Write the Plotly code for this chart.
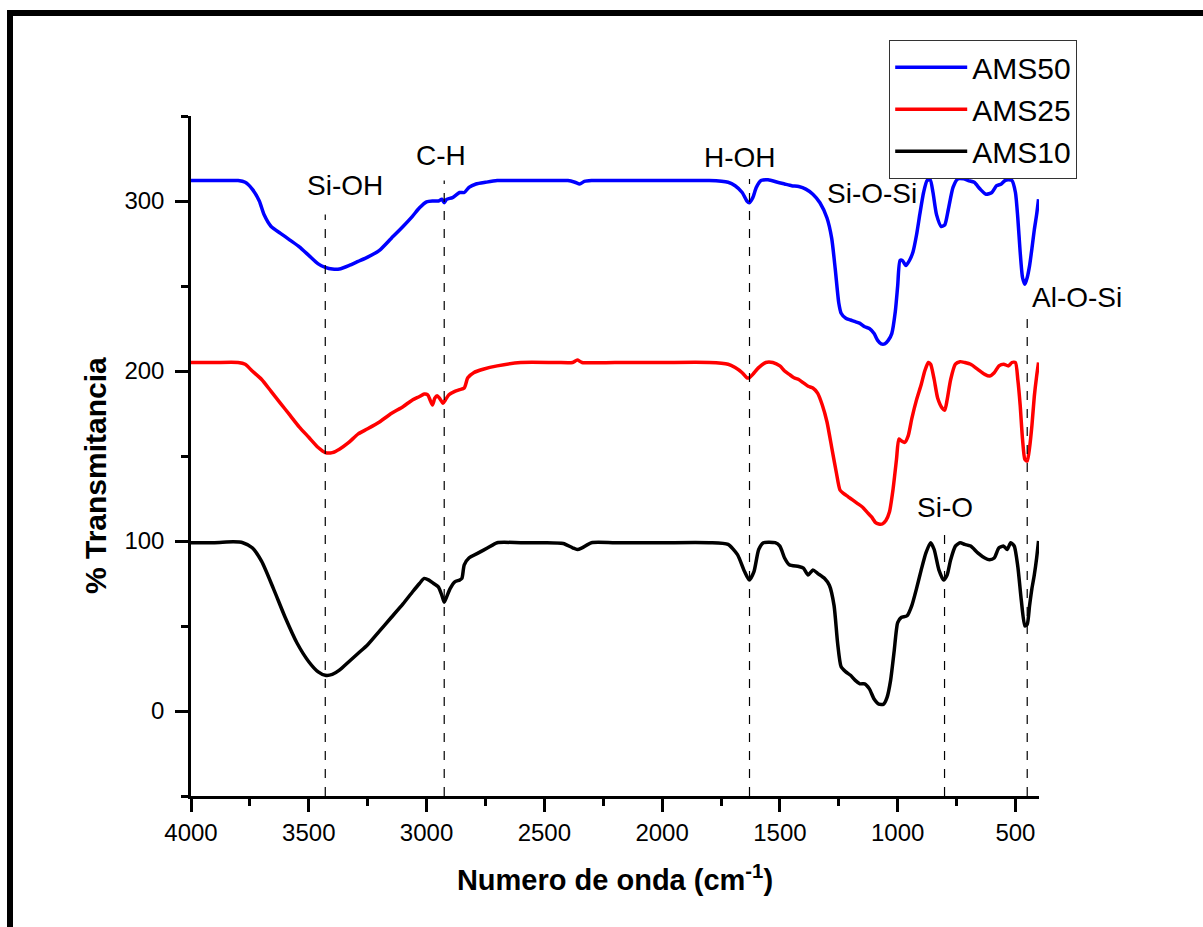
import plotly.graph_objects as go

# ---------------- data ----------------
ams10_wn = [4000, 3900, 3820, 3780, 3740, 3700, 3650, 3600, 3550, 3500, 3460, 3430, 3400, 3370, 3330, 3290, 3250, 3200, 3150, 3100,
            3060, 3030, 3010, 2990, 2970, 2950, 2935, 2925, 2915, 2900, 2880, 2860, 2850, 2840, 2820, 2780, 2740, 2700, 2600, 2500,
            2420, 2380, 2360, 2340, 2300, 2200, 2000, 1800, 1720, 1680, 1650, 1630, 1610, 1590, 1570, 1520, 1500, 1480, 1460, 1420,
            1400, 1380, 1360, 1340, 1310, 1290, 1270, 1255, 1240, 1220, 1200, 1180, 1160, 1140, 1120, 1100, 1080, 1060, 1045, 1030,
            1015, 1000, 985, 960, 940, 920, 900, 880, 860, 845, 825, 805, 790, 775, 755, 735, 715, 690, 660, 630,
            610, 590, 570, 550, 535, 520, 505, 490, 475, 460, 450, 440, 430, 420, 410, 402]
ams10_t = [99, 99, 99.5, 99, 96, 88, 72, 55, 40, 29, 23, 21, 21.5, 24, 29, 34, 39, 47, 55, 63,
           70, 75, 78, 77, 75, 73, 68, 64, 67, 72, 76, 77, 78, 86, 90, 93, 96, 99, 99, 99,
           98.5, 96, 95, 96, 99, 99, 99, 99, 98, 92, 82, 77, 82, 95, 99, 99, 97, 90, 86, 85,
           84, 80, 83, 81, 78, 74, 62, 40, 26, 23, 21, 18, 16, 16, 13, 7, 4, 4, 8, 18,
           35, 52, 55, 56, 62, 72, 83, 93, 99, 95, 83, 77, 80, 89, 97, 99, 98, 97, 93, 90,
           89, 90, 96, 97, 95, 99, 97, 85, 65, 50, 51, 62, 72, 80, 90, 100]

ams25_wn = [4000, 3900, 3800, 3770, 3740, 3700, 3660, 3620, 3580, 3540, 3500, 3460, 3430, 3400, 3370, 3330, 3290, 3250, 3200, 3150,
            3100, 3060, 3030, 3010, 2995, 2985, 2975, 2965, 2955, 2945, 2930, 2920, 2905, 2880, 2860, 2840, 2825, 2800, 2760, 2700,
            2600, 2450, 2380, 2360, 2340, 2200, 2000, 1800, 1720, 1690, 1660, 1640, 1630, 1615, 1590, 1560, 1530, 1500, 1480, 1460,
            1440, 1420, 1400, 1380, 1360, 1340, 1320, 1300, 1280, 1260, 1245, 1230, 1210, 1190, 1170, 1150, 1130, 1110, 1095, 1080,
            1065, 1050, 1035, 1020, 1005, 995, 985, 970, 955, 940, 920, 900, 885, 870, 860, 845, 830, 810, 800, 790,
            775, 755, 735, 715, 690, 660, 630, 610, 590, 570, 550, 530, 515, 500, 490, 480, 470, 460, 450, 440,
            430, 420, 410, 402]
ams25_t = [205, 205, 205, 204, 200, 195, 188, 181, 174, 167, 161, 155, 152, 152, 154, 158, 163, 166, 170, 175,
           179, 183, 185, 186.5, 186, 183, 180, 184, 185.5, 184, 181, 183, 186, 188, 189, 190, 196, 199, 201, 203,
           205, 205, 205, 206.5, 205, 205, 205, 205, 204, 202, 199, 196, 196, 198, 202, 205, 205, 203, 200, 198,
           196, 195, 193, 191, 190, 187, 180, 170, 155, 140, 130, 128, 126, 124, 122, 120, 117, 114, 111, 110,
           110, 112, 117, 130, 148, 160, 159, 158, 162, 172, 183, 192, 200, 205, 204, 195, 184, 178, 177, 183,
           195, 204, 205.5, 205, 204, 201, 198, 197, 199, 203, 204, 203, 205, 205, 195, 180, 160, 148, 147, 155,
           168, 185, 197, 205]

ams50_wn = [4000, 3900, 3800, 3770, 3740, 3710, 3690, 3660, 3620, 3580, 3540, 3500, 3460, 3430, 3400, 3370, 3330, 3290, 3250, 3200,
            3150, 3100, 3060, 3030, 3000, 2975, 2950, 2935, 2925, 2915, 2890, 2860, 2840, 2820, 2790, 2750, 2700, 2500, 2400, 2370,
            2350, 2330, 2300, 2000, 1800, 1720, 1690, 1660, 1640, 1630, 1615, 1600, 1580, 1550, 1510, 1480, 1450, 1420, 1390, 1360,
            1330, 1300, 1280, 1265, 1250, 1240, 1220, 1200, 1180, 1160, 1140, 1120, 1100, 1085, 1070, 1055, 1040, 1025, 1010, 1000,
            990, 980, 965, 950, 935, 920, 905, 890, 875, 862, 850, 835, 815, 800, 785, 765, 745, 720, 700, 675,
            650, 625, 600, 580, 560, 545, 530, 515, 500, 490, 480, 470, 460, 450, 440, 430, 420, 410, 402]
ams50_t = [312, 312, 312, 311, 307, 300, 292, 285, 281, 277, 273, 268, 263, 261, 260, 260, 262, 264.5, 267, 271,
           278, 285, 291, 296, 299.5, 300, 300, 301, 299, 301, 302, 305, 305, 308, 310, 311, 312, 312, 312, 311,
           310, 311.5, 312, 312, 312, 311, 309, 305, 300, 299, 302, 308, 312, 312.5, 311, 310, 309, 308.5, 307, 304,
           299, 290, 278, 260, 240, 234, 231, 230, 229, 228, 226, 225, 222, 218, 216, 216, 218, 222, 235, 250,
           265, 265, 262, 265, 270, 280, 293, 305, 312, 312.5, 305, 292, 285, 286, 295, 308, 313, 313, 312, 311,
           307, 304, 305, 309, 310, 312, 312.5, 312, 305, 290, 270, 255, 251, 255, 262, 272, 283, 292, 301]

series_names = ["AMS50", "AMS25", "AMS10"]
series_colors = ["#0000FF", "#FF0000", "#000000"]

# band assignments: label, dashed-line wavenumber, dashed-line top value
band_labels = ["Si-OH", "C-H", "H-OH", "Si-O", "Al-O-Si"]
band_wn = [3430, 2925, 1629, 801, 450]
band_top = [292, 312, 313, 106, 231]

x_tickvals = [4000, 3500, 3000, 2500, 2000, 1500, 1000, 500]
y_tickvals = [0, 100, 200, 300]

# ---------------- figure ----------------
FONT = "Arial, 'Liberation Sans', sans-serif"
W, H = 1203, 927
L, R, T, B = 191, 164, 116, 131
PW, PH = W - L - R, H - T - B


def px2paper_x(px):
    return (px - L) / PW


def px2paper_y(py):
    return 1 - (py - T) / PH


fig = go.Figure()
for name, col, wn, t in [
    (series_names[0], series_colors[0], ams50_wn, ams50_t),
    (series_names[1], series_colors[1], ams25_wn, ams25_t),
    (series_names[2], series_colors[2], ams10_wn, ams10_t),
]:
    fig.add_trace(go.Scatter(x=wn, y=t, mode="lines", name=name,
                             line=dict(color=col, width=3.5, shape="spline", smoothing=0.6)))

# dashed guide lines
for wn, top in zip(band_wn, band_top):
    fig.add_shape(type="line", xref="x", yref="y", x0=wn, x1=wn, y0=-50, y1=top,
                  line=dict(color="black", width=1.2, dash="dash"))

# band labels
ann_font = dict(family=FONT, size=28, color="black")
fig.add_annotation(x=3348, y=309, xref="x", yref="y", text="Si-OH", showarrow=False, font=ann_font)
fig.add_annotation(x=2940, y=327, xref="x", yref="y", text="C-H", showarrow=False, font=ann_font)
fig.add_annotation(x=1668, y=325.5, xref="x", yref="y", text="H-OH", showarrow=False, font=ann_font)
fig.add_annotation(x=1111, y=304.5, xref="x", yref="y", text="Si-O-Si", showarrow=False, font=ann_font)
fig.add_annotation(x=800, y=119.5, xref="x", yref="y", text="Si-O", showarrow=False, font=ann_font)
fig.add_annotation(x=px2paper_x(1077), y=243, xref="paper", yref="y", xanchor="center",
                   text="Al-O-Si", showarrow=False, font=ann_font)

# y-axis title
fig.add_annotation(x=px2paper_x(95), y=px2paper_y(476), xref="paper", yref="paper",
                   xanchor="center", yanchor="middle",
                   text="<b>% Transmitancia</b>", textangle=-90, showarrow=False,
                   font=dict(family=FONT, size=30, color="black"))

# outer frame (top and left)
fig.add_shape(type="line", xref="paper", yref="paper", x0=px2paper_x(7), x1=px2paper_x(1210),
              y0=px2paper_y(13), y1=px2paper_y(13), line=dict(color="black", width=6))
fig.add_shape(type="line", xref="paper", yref="paper", x0=px2paper_x(10), x1=px2paper_x(10),
              y0=px2paper_y(10), y1=px2paper_y(935), line=dict(color="black", width=6))

axis_common = dict(showline=True, linecolor="black", linewidth=2.5, mirror=False, showgrid=False, zeroline=False,
                   ticks="outside", ticklen=13, tickwidth=2.5, tickcolor="black",
                   tickfont=dict(family=FONT, size=24, color="black"))

fig.update_layout(
    width=W, height=H,
    margin=dict(l=L, r=R, t=T, b=B, autoexpand=False),
    paper_bgcolor="white", plot_bgcolor="white",
    font=dict(family=FONT, color="black"),
    xaxis=dict(range=[4000, 400], tickmode="array", tickvals=x_tickvals,
               minor=dict(tickvals=[3750, 3250, 2750, 2250, 1750, 1250, 750], ticks="outside", ticklen=7, tickwidth=2.5, tickcolor="black"),
               title=dict(text="<b>Numero de onda (cm<sup>-1</sup>)</b>", font=dict(family=FONT, size=29, color="black"), standoff=26),
               **axis_common),
    yaxis=dict(range=[-50, 350], tickmode="array", tickvals=y_tickvals,
               minor=dict(tickvals=[-50, 50, 150, 250, 350], ticks="outside", ticklen=7, tickwidth=2.5, tickcolor="black"),
               ticklabelstandoff=6,
               **axis_common),
    legend=dict(x=px2paper_x(889), y=px2paper_y(40), xanchor="left", yanchor="top",
                bordercolor="#333333", borderwidth=1.2, bgcolor="white",
                font=dict(family=FONT, size=30, color="black"), itemwidth=72, tracegroupgap=0),
    showlegend=True,
)

fig.write_html("out.html")
